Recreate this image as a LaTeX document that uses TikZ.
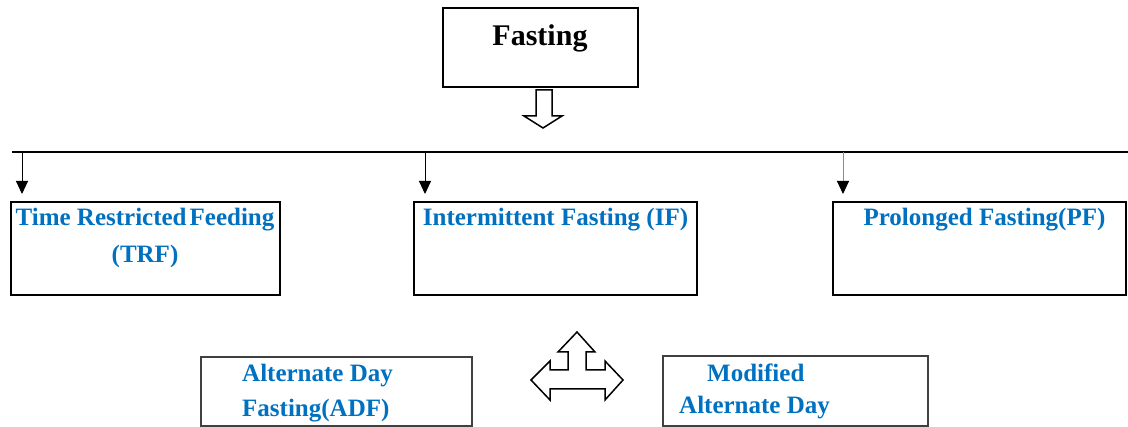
\documentclass[tikz,border=0pt]{standalone}
\usepackage{fontspec}
\setmainfont{Liberation Serif}
\usetikzlibrary{arrows.meta}
\definecolor{wblue}{RGB}{0,112,192}
\begin{document}
\begin{tikzpicture}[x=1pt,y=-1pt,
  box/.style={draw=black,line width=2pt,inner sep=0pt},
  subbox/.style={draw=black!75,line width=1.3pt,inner sep=0pt},
  lbl/.style={font=\bfseries\fontsize{25}{30}\selectfont,text=wblue,inner sep=0pt,anchor=base},
  conn/.style={line width=1pt,-{Triangle[length=13pt,width=12pt,color=black]}},
  hollow/.style={draw=black,fill=white,line width=1.5pt,line join=miter}]
\useasboundingbox (0,0) rectangle (1128,427);

% boxes
\node[box,minimum width=195pt,minimum height=79pt] (fast) at (540.5,47.5) {};
\node[box,minimum width=269pt,minimum height=93pt] (trf) at (145.5,248.5) {};
\node[box,minimum width=283pt,minimum height=93pt] (if) at (555.5,248.5) {};
\node[box,minimum width=293pt,minimum height=93pt] (pf) at (979.5,248.5) {};
\node[subbox,minimum width=271pt,minimum height=69pt] (adf) at (336.5,391.5) {};
\node[subbox,minimum width=265pt,minimum height=70pt] (madf) at (795.5,391) {};

% texts
\node[inner sep=0pt,anchor=base,font=\bfseries\fontsize{30}{36}\selectfont] (fastT) at (540,46) {Fasting};
\node[lbl] (trfT1) at (145,226) {Time Restricted\kern3pt Feeding};
\node[lbl] (trfT2) at (145,263) {(TRF)};
\node[lbl] (ifT) at (555.5,226) {Intermittent Fasting (IF)};
\node[lbl] (pfT) at (984.5,226) {Prolonged Fasting(PF)};
\node[lbl,anchor=base west] (adfT1) at (242,382) {Alternate Day};
\node[lbl,anchor=base west] (adfT2) at (242,417) {Fasting(ADF)};
\node[lbl,anchor=base west] (madfT1) at (707,382) {Modified};
\node[lbl,anchor=base west] (madfT2) at (679,414) {Alternate Day};

% hollow down arrow
\draw[hollow] (536,90)--(552,90)--(552,116)--(562,116)--(543,128)--(524,116)--(536,116)--cycle;

% branch line and arrows
\coordinate (h1) at (12,152);
\coordinate (h2) at (1128,152);
\coordinate (a1) at (22,152);
\coordinate (a2) at (425,152);
\coordinate (a3) at (843,152);
\draw[line width=2pt] (h1) -- (h2);
\draw[conn,shorten >=7pt] (a1) -- (a1 |- trf.north);
\draw[conn,shorten >=7pt] (a2) -- (a2 |- if.north);
\draw[conn,draw=black!45,shorten >=7pt] (a3) -- (a3 |- pf.north);

% three-way hollow arrow
\draw[hollow] (577,332) -- (595,352) -- (586,352) -- (586,370) -- (605,370) -- (605,361)
  -- (623,380) -- (605,400) -- (605,389) -- (550,389) -- (550,400) -- (531,380)
  -- (550,361) -- (550,370) -- (568,370) -- (568,352) -- (558,352) -- cycle;
\end{tikzpicture}
\end{document}
